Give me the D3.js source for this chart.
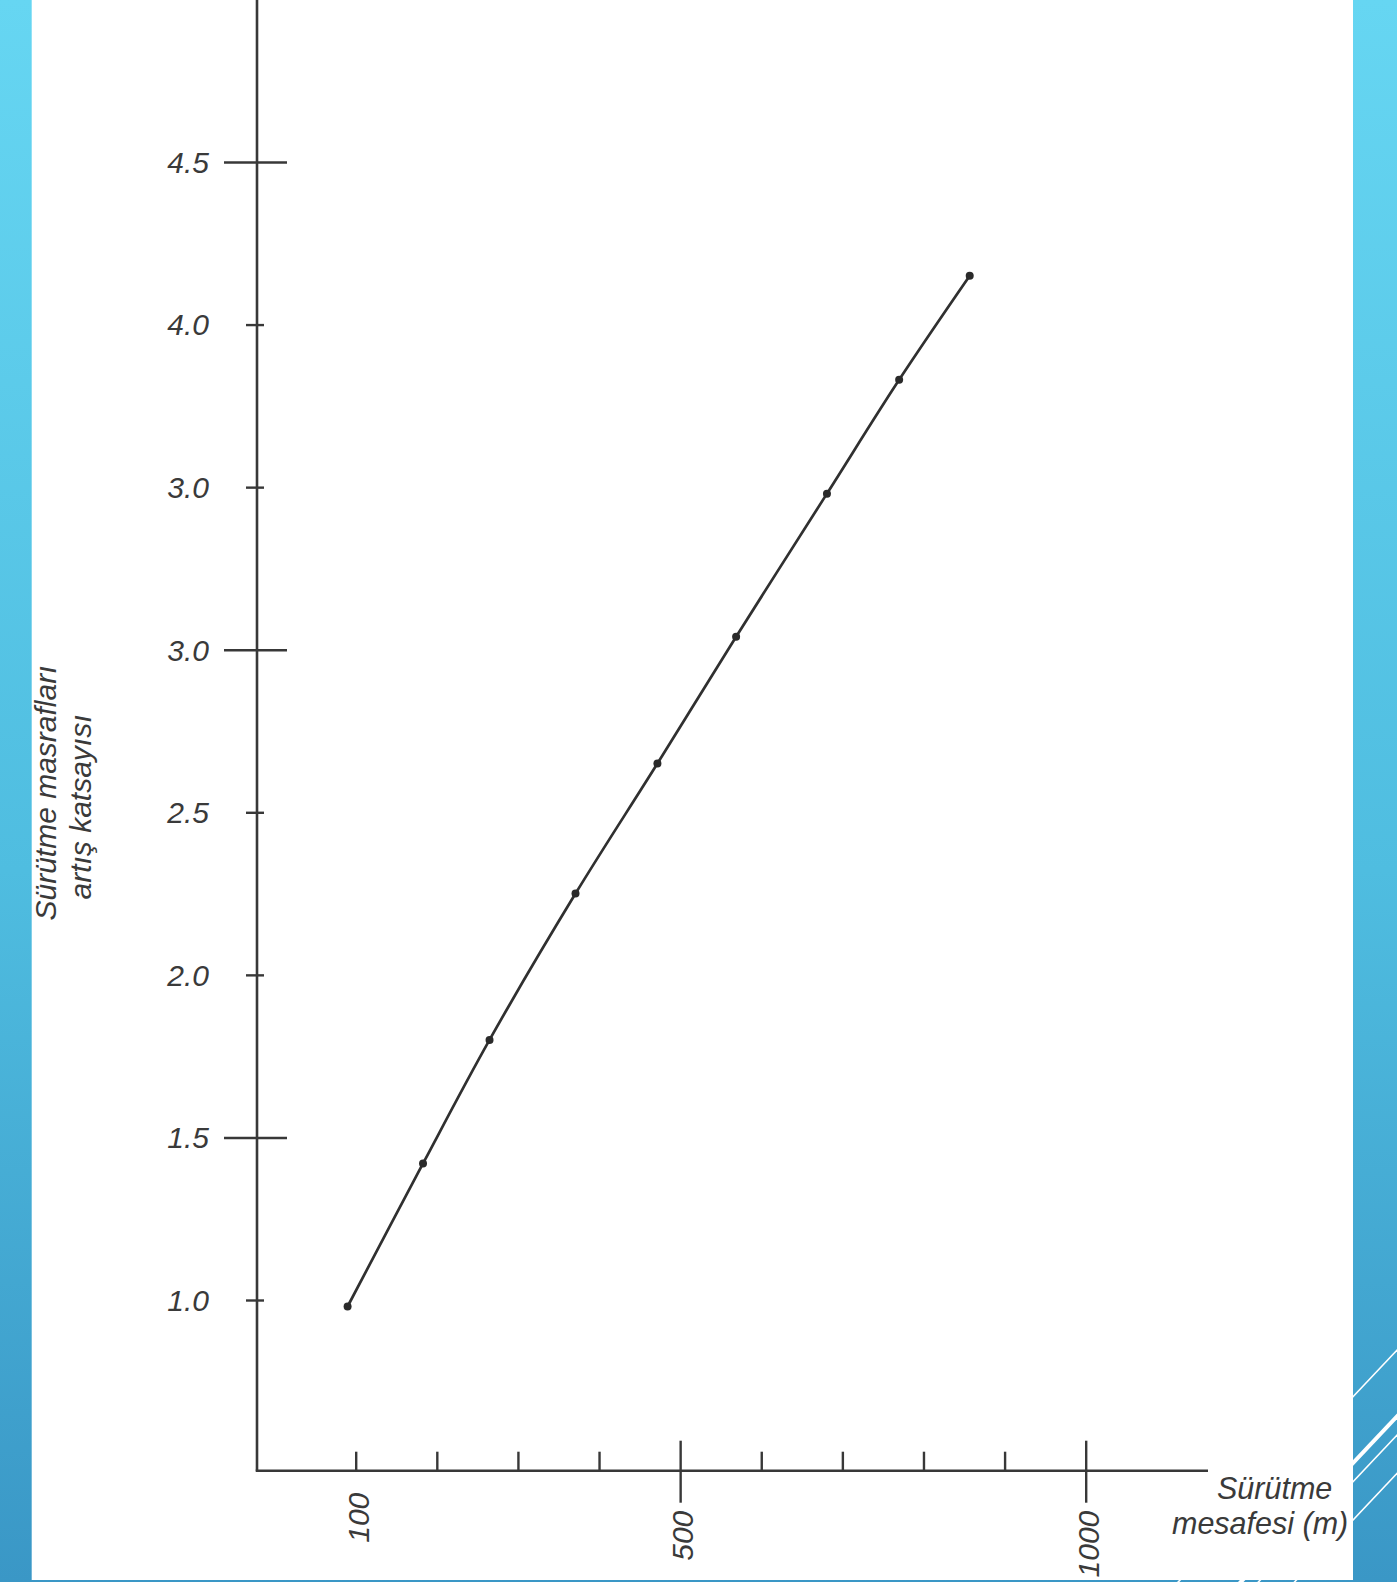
<!DOCTYPE html>
<html>
<head>
<meta charset="utf-8">
<script src="https://cdn.jsdelivr.net/npm/d3@7"></script>
<style>
  html, body { margin: 0; padding: 0; background: #ffffff; }
  svg { display: block; }
  text { font-family: "Liberation Sans", Arial, sans-serif; font-style: italic; fill: #3a3a3a; }
</style>
</head>
<body>
<svg id="chart" width="1397" height="1582"></svg>
<script>
// ---- data ----
const distance    = [90, 183, 265, 371, 472, 569, 681, 770, 857];          // Sürütme mesafesi (m)
const coefficient = [0.98, 1.42, 1.80, 2.25, 2.65, 3.04, 3.48, 3.83, 4.15]; // artış katsayısı

const yTickValues = [1.0, 1.5, 2.0, 2.5, 3.0, 3.5, 4.0, 4.5];
const yTickLabels = ["1.0", "1.5", "2.0", "2.5", "3.0", "3.0", "4.0", "4.5"];
const yMajorTicks = [1.5, 3.0, 4.5];

const xTickValues = [100, 200, 300, 400, 600, 700, 800, 900];
const xMajorTicks = [500, 1000];
const xLabelValues = [100, 500, 1000];
const xLabelTexts  = ["100", "500", "1000"];

const yTitleLines = ["Sürütme masrafları", "artış katsayısı"];
const xTitleLines = ["Sürütme", "mesafesi (m)"];

// ---- layout ----
const W = 1397, H = 1582;
const panel = { left: 31.7, right: 1353, bottom: 1580 };
const axisX = 257, axisY = 1470.7, axisRight = 1208;
const ink = "#383838";

const svg = d3.select("#chart");

// background gradient + decorative lines
const defs = svg.append("defs");
const grad = defs.append("linearGradient").attr("id", "bg")
  .attr("x1", 0).attr("y1", 0).attr("x2", 0).attr("y2", 1);
grad.append("stop").attr("offset", "0%").attr("stop-color", "#66d6f2");
grad.append("stop").attr("offset", "55%").attr("stop-color", "#4fbde0");
grad.append("stop").attr("offset", "100%").attr("stop-color", "#3a97c6");
svg.append("rect").attr("width", W).attr("height", H).attr("fill", "url(#bg)");

const deco = [
  { p: [1353, 1396.7], w: 1.6 },
  { p: [1353, 1463], w: 4 },
  { p: [1353, 1481.7], w: 1.6 },
  { p: [1353, 1520], w: 1.6 }
];
const slope = -1.06;
svg.append("g").selectAll("line").data(deco).join("line")
  .attr("x1", d => d.p[0] - 300).attr("y1", d => d.p[1] - 300 * slope)
  .attr("x2", d => d.p[0] + 200).attr("y2", d => d.p[1] + 200 * slope)
  .attr("stroke", "#ffffff").attr("stroke-width", d => d.w);

svg.append("rect")
  .attr("x", panel.left).attr("y", 0)
  .attr("width", panel.right - panel.left).attr("height", panel.bottom)
  .attr("fill", "#ffffff");

// ---- scales ----
const x = d3.scaleLinear().domain([100, 1000]).range([355.7, 1085.7]);
const y = d3.scaleLinear().domain([1, 4.5]).range([1300, 162]);

// ---- axes lines ----
svg.append("line").attr("x1", axisX).attr("x2", axisX).attr("y1", 0).attr("y2", axisY)
  .attr("stroke", ink).attr("stroke-width", 2.6);
svg.append("line").attr("x1", axisX - 1.3).attr("x2", axisRight).attr("y1", axisY).attr("y2", axisY)
  .attr("stroke", ink).attr("stroke-width", 2.6);

// ---- y ticks ----
const yMinor = yTickValues.filter(v => !yMajorTicks.includes(v));
const gyMinor = svg.append("g").attr("transform", `translate(${axisX},0)`)
  .call(d3.axisLeft(y).tickValues(yMinor).tickSize(11).tickFormat(""));
gyMinor.select(".domain").remove();
gyMinor.selectAll(".tick line").attr("x1", 7).attr("stroke", ink).attr("stroke-width", 2.4);

const gyMajor = svg.append("g").attr("transform", `translate(${axisX},0)`)
  .call(d3.axisLeft(y).tickValues(yMajorTicks).tickSize(33).tickFormat(""));
gyMajor.select(".domain").remove();
gyMajor.selectAll(".tick line").attr("x1", 30).attr("stroke", ink).attr("stroke-width", 2.4);

svg.append("g").selectAll("text").data(yTickValues).join("text")
  .attr("x", axisX - 48).attr("y", d => y(d)).attr("dy", "0.36em")
  .attr("text-anchor", "end").attr("font-size", 30)
  .text((d, i) => yTickLabels[i]);

// ---- x ticks ----
const gxMinor = svg.append("g").attr("transform", `translate(0,${axisY})`)
  .call(d3.axisBottom(x).tickValues(xTickValues).tickSize(-19).tickFormat(""));
gxMinor.select(".domain").remove();
gxMinor.selectAll(".tick line").attr("stroke", ink).attr("stroke-width", 2.4);

const gxMajor = svg.append("g").attr("transform", `translate(0,${axisY})`)
  .call(d3.axisBottom(x).tickValues(xMajorTicks).tickSize(32).tickFormat(""));
gxMajor.select(".domain").remove();
gxMajor.selectAll(".tick line").attr("y1", -30).attr("stroke", ink).attr("stroke-width", 2.4);

svg.append("g").selectAll("text").data(xLabelValues).join("text")
  .attr("transform", d => `translate(${x(d) + 2},${axisY + (xMajorTicks.includes(d) ? 40 : 22)}) rotate(-90)`)
  .attr("dy", "0.36em").attr("text-anchor", "end").attr("font-size", 30)
  .text((d, i) => xLabelTexts[i]);

// ---- curve ----
const pts = distance.map((d, i) => [d, coefficient[i]]);
const line = d3.line().x(d => x(d[0])).y(d => y(d[1])).curve(d3.curveCatmullRom.alpha(0.5));
svg.append("path").datum(pts).attr("d", line)
  .attr("fill", "none").attr("stroke", "#303030").attr("stroke-width", 2.7);
svg.append("g").selectAll("circle").data(pts).join("circle")
  .attr("cx", d => x(d[0])).attr("cy", d => y(d[1])).attr("r", 4)
  .attr("fill", "#2a2a2a");

// ---- titles ----
const yTitle = svg.append("text")
  .attr("transform", "translate(45.5,793) rotate(-90)")
  .attr("text-anchor", "middle").attr("font-size", 30);
yTitle.append("tspan").attr("x", 0).attr("dy", "0.36em").text(yTitleLines[0]);
yTitle.append("tspan").attr("x", -14).attr("dy", 35).text(yTitleLines[1]);

const xTitle = svg.append("text").attr("font-size", 30.5);
xTitle.append("tspan").attr("x", 1217).attr("y", 1499).text(xTitleLines[0]);
xTitle.append("tspan").attr("x", 1172).attr("y", 1534).text(xTitleLines[1]);
</script>
</body>
</html>
